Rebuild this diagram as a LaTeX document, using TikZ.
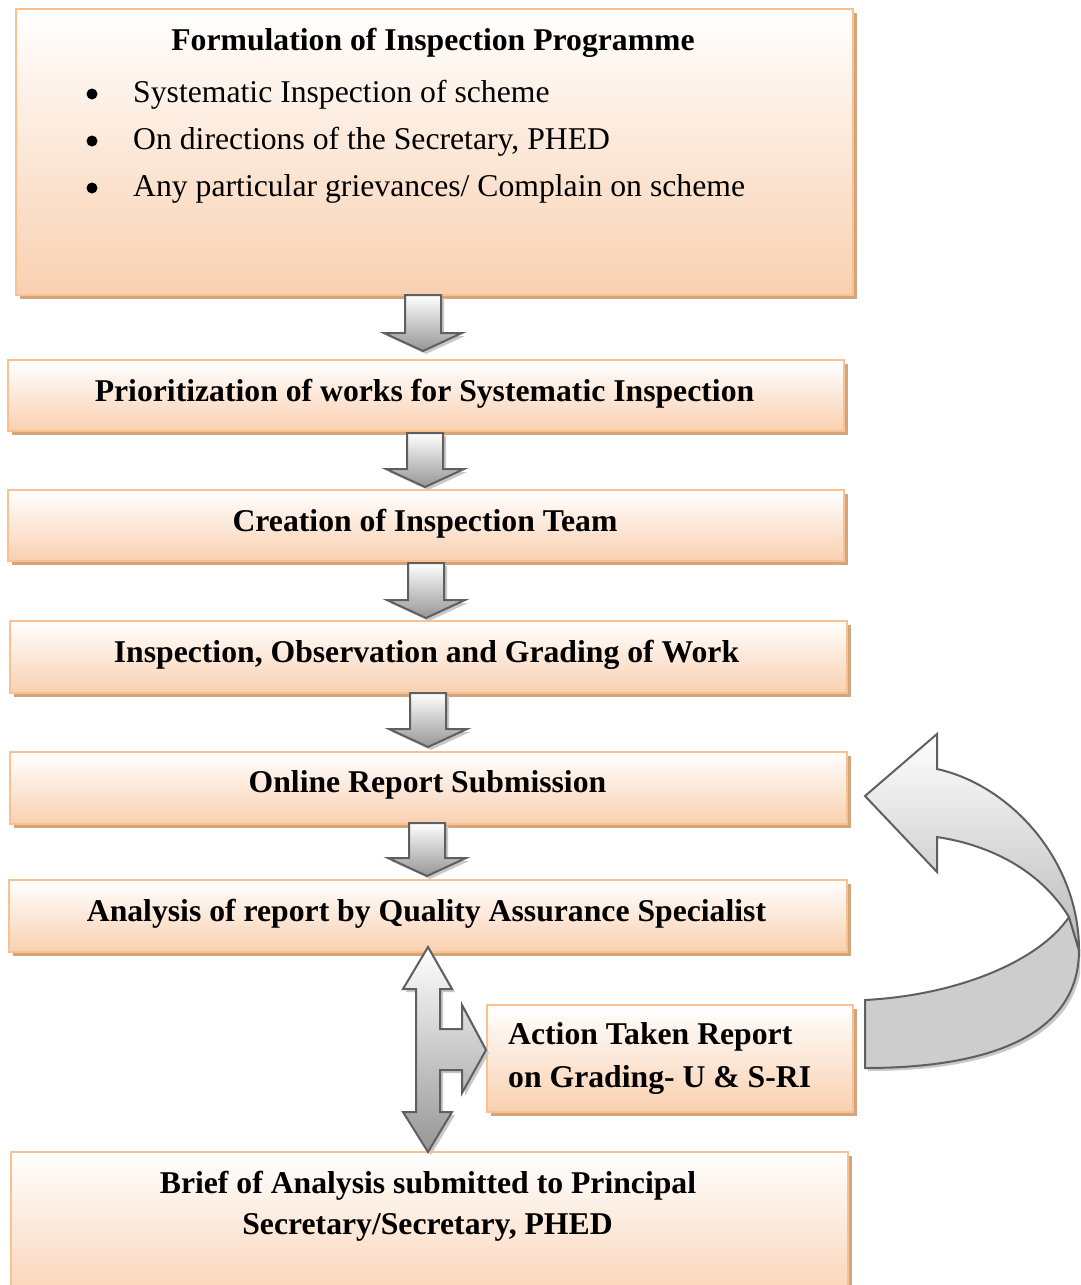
\documentclass[tikz,border=0pt]{standalone}
\usepackage{fontspec}
\setmainfont{Liberation Serif}
\usetikzlibrary{shadows}
\definecolor{boxline}{RGB}{250,192,143}
\definecolor{peach}{RGB}{249,208,176}
\definecolor{shadowtan}{RGB}{210,165,125}
\definecolor{arrline}{RGB}{95,95,95}
\definecolor{arrgray}{RGB}{150,150,150}
\definecolor{arrshadow}{RGB}{200,200,200}
\definecolor{backband}{RGB}{205,205,205}
\newcommand\blockdown[3]{%
  \path[arrowshape] (#1-18,#2) -- (#1+18,#2) -- (#1+18,#3-18) -- (#1+39,#3-18)
    -- (#1,#3) -- (#1-39,#3-18) -- (#1-18,#3-18) -- cycle;}
\begin{document}
\begin{tikzpicture}[x=1pt,y=-1pt,
  flowbox/.style={draw=boxline,line width=2pt,top color=white,bottom color=peach,
    anchor=north west,inner sep=0pt,
    drop shadow={shadow xshift=3.5pt,shadow yshift=-3.5pt,fill=shadowtan,opacity=1}},
  ntxt/.style={font=\fontsize{31.7}{42}\selectfont,inner sep=0pt,anchor=base},
  btxt/.style={ntxt,font=\fontsize{31.7}{42}\selectfont\bfseries},
  bulletdot/.style={circle,fill=black,inner sep=0pt,minimum size=11pt},
  arrowshape/.style={draw=arrline,line width=2pt,top color=white,bottom color=arrgray,
    line join=miter,
    drop shadow={shadow xshift=3pt,shadow yshift=-3pt,fill=arrshadow,opacity=1}},
  bandlight/.style={draw=arrline,line width=2pt,top color=white,bottom color=backband!90!black,line join=miter},
  banddark/.style={draw=arrline,line width=2pt,fill=backband,line join=miter,
    drop shadow={shadow xshift=3pt,shadow yshift=-3pt,fill=arrshadow,opacity=1}}]
\clip (0,0) rectangle (1080,1285);
\fill[white] (0,0) rectangle (1080,1285);

% boxes
\node[flowbox,minimum width=837pt,minimum height=286pt] (b1) at (15,8) {};
\node[flowbox,minimum width=836pt,minimum height=71pt] (b2) at (7,359) {};
\node[flowbox,minimum width=836pt,minimum height=71pt] (b3) at (7,489) {};
\node[flowbox,minimum width=837pt,minimum height=72pt] (b4) at (9,620) {};
\node[flowbox,minimum width=837pt,minimum height=72pt] (b5) at (9,751) {};
\node[flowbox,minimum width=838pt,minimum height=72pt] (b6) at (8,879) {};
\node[flowbox,minimum width=366pt,minimum height=107pt] (b7) at (486,1004) {};
\node[flowbox,minimum width=837pt,minimum height=160pt] (b8) at (10,1151) {};

% texts
\node[btxt] (t1) at (433,50) {Formulation of Inspection Programme};
\node[bulletdot] (d1) at (92,94) {};
\node[bulletdot] (d2) at (92,141) {};
\node[bulletdot] (d3) at (92,188) {};
\node[ntxt,anchor=base west] (l1) at (133,102) {Systematic Inspection of scheme};
\node[ntxt,anchor=base west] (l2) at (133,149) {On directions of the Secretary, PHED};
\node[ntxt,anchor=base west] (l3) at (133,196) {Any particular grievances/ Complain on scheme};
\node[btxt] (t2) at (424.5,401) {Prioritization of works for Systematic Inspection};
\node[btxt] (t3) at (425,531) {Creation of Inspection Team};
\node[btxt] (t4) at (426.5,662) {Inspection, Observation and Grading of Work};
\node[btxt] (t5) at (427.5,792) {Online Report Submission};
\node[btxt] (t6) at (426.5,921) {Analysis of report by Quality Assurance Specialist};
\node[btxt,anchor=base west] (t7a) at (508,1044) {Action Taken Report};
\node[btxt,anchor=base west] (t7b) at (508,1087) {on Grading- U \& S-RI};
\node[btxt] (t8a) at (428,1193) {Brief of Analysis submitted to Principal};
\node[btxt] (t8b) at (427.5,1234) {Secretary/Secretary, PHED};

% down block arrows
\blockdown{423}{295}{351}
\blockdown{425}{433}{487}
\blockdown{426}{563}{618}
\blockdown{428}{693}{747}
\blockdown{427}{823}{876}

% three-way arrow
\path[arrowshape] (428,947) -- (452,989) -- (440,989) -- (440,1029) -- (462,1029)
  -- (462,1005) -- (486,1050) -- (462,1093) -- (462,1070) -- (440,1070) -- (440,1112)
  -- (452,1112) -- (428,1152) -- (403,1112) -- (416,1112) -- (416,989) -- (403,989) -- cycle;

% curved return arrow
\path[banddark] (865,1000) .. controls (960,995) and (1040,960) .. (1069,917)
  -- (1079,950) .. controls (1079,1035) and (990,1068) .. (865,1068) -- cycle;
\path[bandlight] (865,796) -- (937,734) -- (937,769)
  .. controls (1010,785) and (1079,860) .. (1079,950)
  -- (1069,917) .. controls (1040,870) and (990,845) .. (937,837)
  -- (937,872) -- cycle;
\end{tikzpicture}
\end{document}
